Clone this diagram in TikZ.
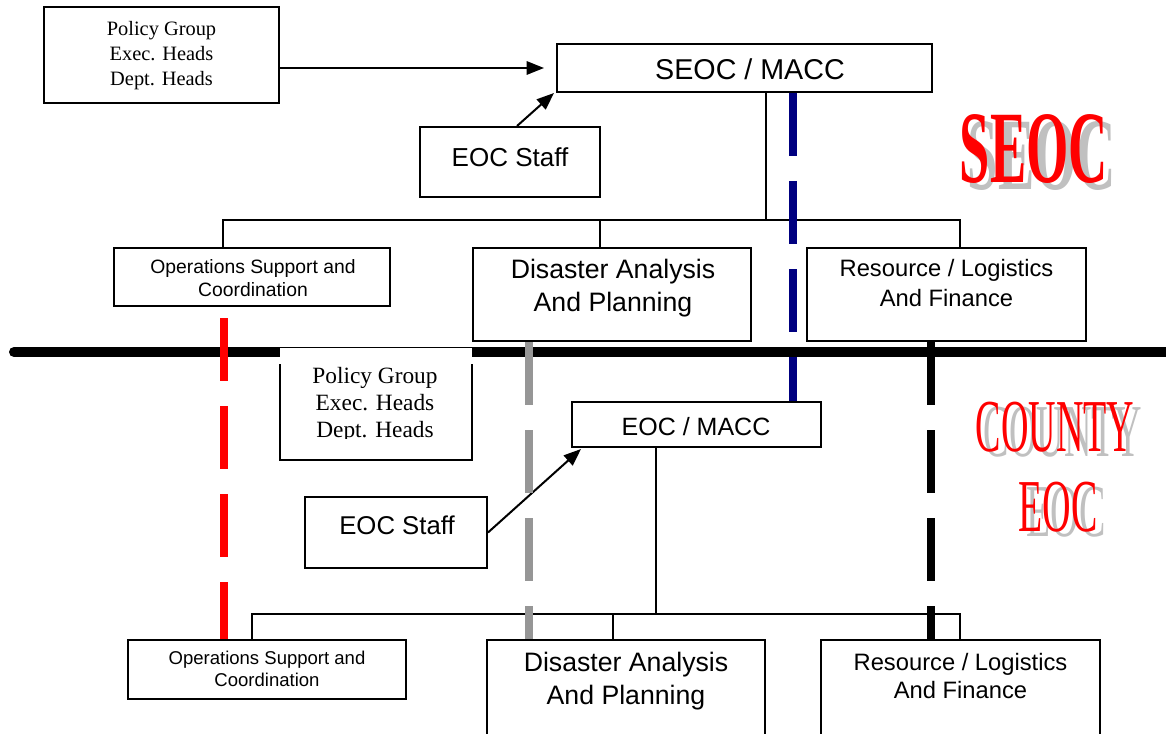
\documentclass[tikz,border=0pt]{standalone}
\usepackage{fontspec}
\setmainfont{Liberation Serif}
\setsansfont{Liberation Sans}
\usetikzlibrary{arrows.meta,calc}
\definecolor{navyblue}{RGB}{0,0,128}
\definecolor{dashgray}{RGB}{150,150,150}
\definecolor{shadowgray}{RGB}{192,192,192}
\begin{document}
\begin{tikzpicture}[x=0.75pt,y=-0.75pt,
  box/.style={draw,line width=1.5pt,fill=white,inner sep=0pt},
  txt/.style={align=center,inner sep=0pt},
  ln/.style={line width=1.5pt},
  arr/.style={line width=1.5pt,-{Triangle[length=13pt,width=10pt]}},
  dashln/.style={line width=6pt,dash pattern=on 47.25pt off 18.75pt},
  thick line/.style={line width=7.5pt,line cap=round},
  bigtxt/.style={inner sep=0pt,font=\fontsize{77pt}{77pt}\selectfont\bfseries},
  midtxt/.style={inner sep=0pt,font=\fontsize{56pt}{56pt}\selectfont}
]
\clip (0,0) rectangle (1166,734);
\fill[white] (0,0) rectangle (1166,734);

% ---------- big labels ----------
\node[bigtxt,text=shadowgray] (seocS) at (1042,156) {\scalebox{0.53}[1]{SEOC}};
\node[bigtxt,text=red] (seocL) at (1034,149) {\scalebox{0.53}[1]{SEOC}};
\node[midtxt,text=shadowgray] (countyS) at (1063,432) {\scalebox{0.51}[1]{COUNTY}};
\node[midtxt,text=red] (countyL) at (1055,427) {\scalebox{0.51}[1]{COUNTY}};
\node[midtxt,text=shadowgray] (eocS) at (1066,512.5) {\scalebox{0.53}[1]{EOC}};
\node[midtxt,text=red] (eocL) at (1058,507.5) {\scalebox{0.53}[1]{EOC}};

% ---------- top section ----------
\node[box,minimum width=176.25pt,minimum height=72pt] (pg1) at (161.5,55) {};
\node[txt,font=\fontsize{15.3pt}{18.75pt}\selectfont] (pg1t) at (161.5,56) {Policy Group\\Exec. Heads\\Dept. Heads};

\node[box,minimum width=281.25pt,minimum height=36pt] (seoc) at (744.5,68) {};
\node[txt,font=\sffamily\fontsize{21.5pt}{25pt}\selectfont] (seoct) at (750,69) {SEOC / MACC};

\node[box,minimum width=135pt,minimum height=52.5pt] (staff1) at (510,162) {};
\node[txt,font=\sffamily\fontsize{19.5pt}{23pt}\selectfont] (staff1t) at (510,157) {EOC Staff};

\draw[arr] (pg1.east |- seoc.west) -- ([xshift=-9pt]seoc.west);
\draw[arr] ($(staff1.north)+(7,0)$) -- ($(seoc.south west)+(-2,0)$);

\node[box,minimum width=207pt,minimum height=43.5pt] (ops1) at (252,277) {};
\node[txt,font=\sffamily\fontsize{14.5pt}{17.25pt}\selectfont] (ops1t) at (253,278.5) {Operations Support and\\Coordination};

\node[box,minimum width=208.5pt,minimum height=69.75pt] (dap1) at (612,294.5) {};
\node[txt,font=\sffamily\fontsize{20pt}{24.75pt}\selectfont] (dap1t) at (613,288.5) {Disaster Analysis\\And Planning};

\node[box,minimum width=209.25pt,minimum height=69.75pt] (res1) at (946.5,294.5) {};
\node[txt,font=\sffamily\fontsize{17.8pt}{22.5pt}\selectfont] (res1t) at (946.5,283) {Resource / Logistics\\And Finance};

\coordinate (t1) at (766,220);
\draw[ln] (seoc.south -| t1) -- (t1);
\draw[ln] (ops1.north -| 223,0) -- (223,220) -- (960,220) -- (res1.north -| 960,0);
\draw[ln] (600,220) -- (dap1.north -| 600,0);

% ---------- dividing line ----------
\coordinate (divL) at (14,352);
\coordinate (divR) at (1180,352);
\draw[thick line] (divL) -- (divR);

% ---------- bottom section ----------
\node[draw=none,fill=white,inner sep=0pt,minimum width=144pt,minimum height=84pt] (pg2) at (376,404) {};
\draw[ln] (pg2.west |- 0,364) -- (pg2.south west) -- (pg2.south east) -- (pg2.east |- 0,364);
\begin{scope}
\clip (280,348) rectangle (472,438);
\node[txt,font=\fontsize{17.5pt}{20.25pt}\selectfont] (pg2t) at (375,405) {Policy Group\\Exec. Heads\\Dept. Heads};
\end{scope}

\node[box,minimum width=186.75pt,minimum height=33.75pt] (eoc2) at (696.5,424.5) {};
\node[txt,font=\sffamily\fontsize{18.75pt}{22pt}\selectfont] (eoc2t) at (696,427) {EOC / MACC};

\node[box,minimum width=136.5pt,minimum height=53.25pt] (staff2) at (396,532.5) {};
\node[txt,font=\sffamily\fontsize{19.3pt}{23pt}\selectfont] (staff2t) at (397,525) {EOC Staff};

\draw[arr] (staff2.east) -- ($(eoc2.south west)+(10,1)$);

\node[box,minimum width=208.5pt,minimum height=44.25pt] (ops2) at (267,669.5) {};
\node[txt,font=\sffamily\fontsize{13.9pt}{16.5pt}\selectfont] (ops2t) at (267,669) {Operations Support and\\Coordination};

\node[box,minimum width=208.5pt,minimum height=90pt] (dap2) at (626,700) {};
\node[txt,font=\sffamily\fontsize{20pt}{24.75pt}\selectfont] (dap2t) at (626,681.5) {Disaster Analysis\\And Planning};

\node[box,minimum width=209.25pt,minimum height=90pt] (res2) at (960.5,700) {};
\node[txt,font=\sffamily\fontsize{17.8pt}{21pt}\selectfont] (res2t) at (960.5,676) {Resource / Logistics\\And Finance};

\coordinate (t2) at (656,614);
\draw[ln] (eoc2.south -| t2) -- (t2);
\draw[ln] (ops2.north -| 252,0) -- (252,614) -- (960,614) -- (res2.north -| 960,0);
\draw[ln] (613,614) -- (dap2.north -| 613,0);

% ---------- dashed links ----------
\draw[dashln,navyblue] (seoc.south -| 793,0) -- (eoc2.north -| 793,0);
\draw[dashln,red] (224,318) -- (ops2.north -| 224,0);
\draw[dashln,dashgray] (dap1.south -| 529,0) -- (dap2.north -| 529,0);
\draw[dashln,black] (res1.south -| 931,0) -- (res2.north -| 931,0);
\end{tikzpicture}
\end{document}
